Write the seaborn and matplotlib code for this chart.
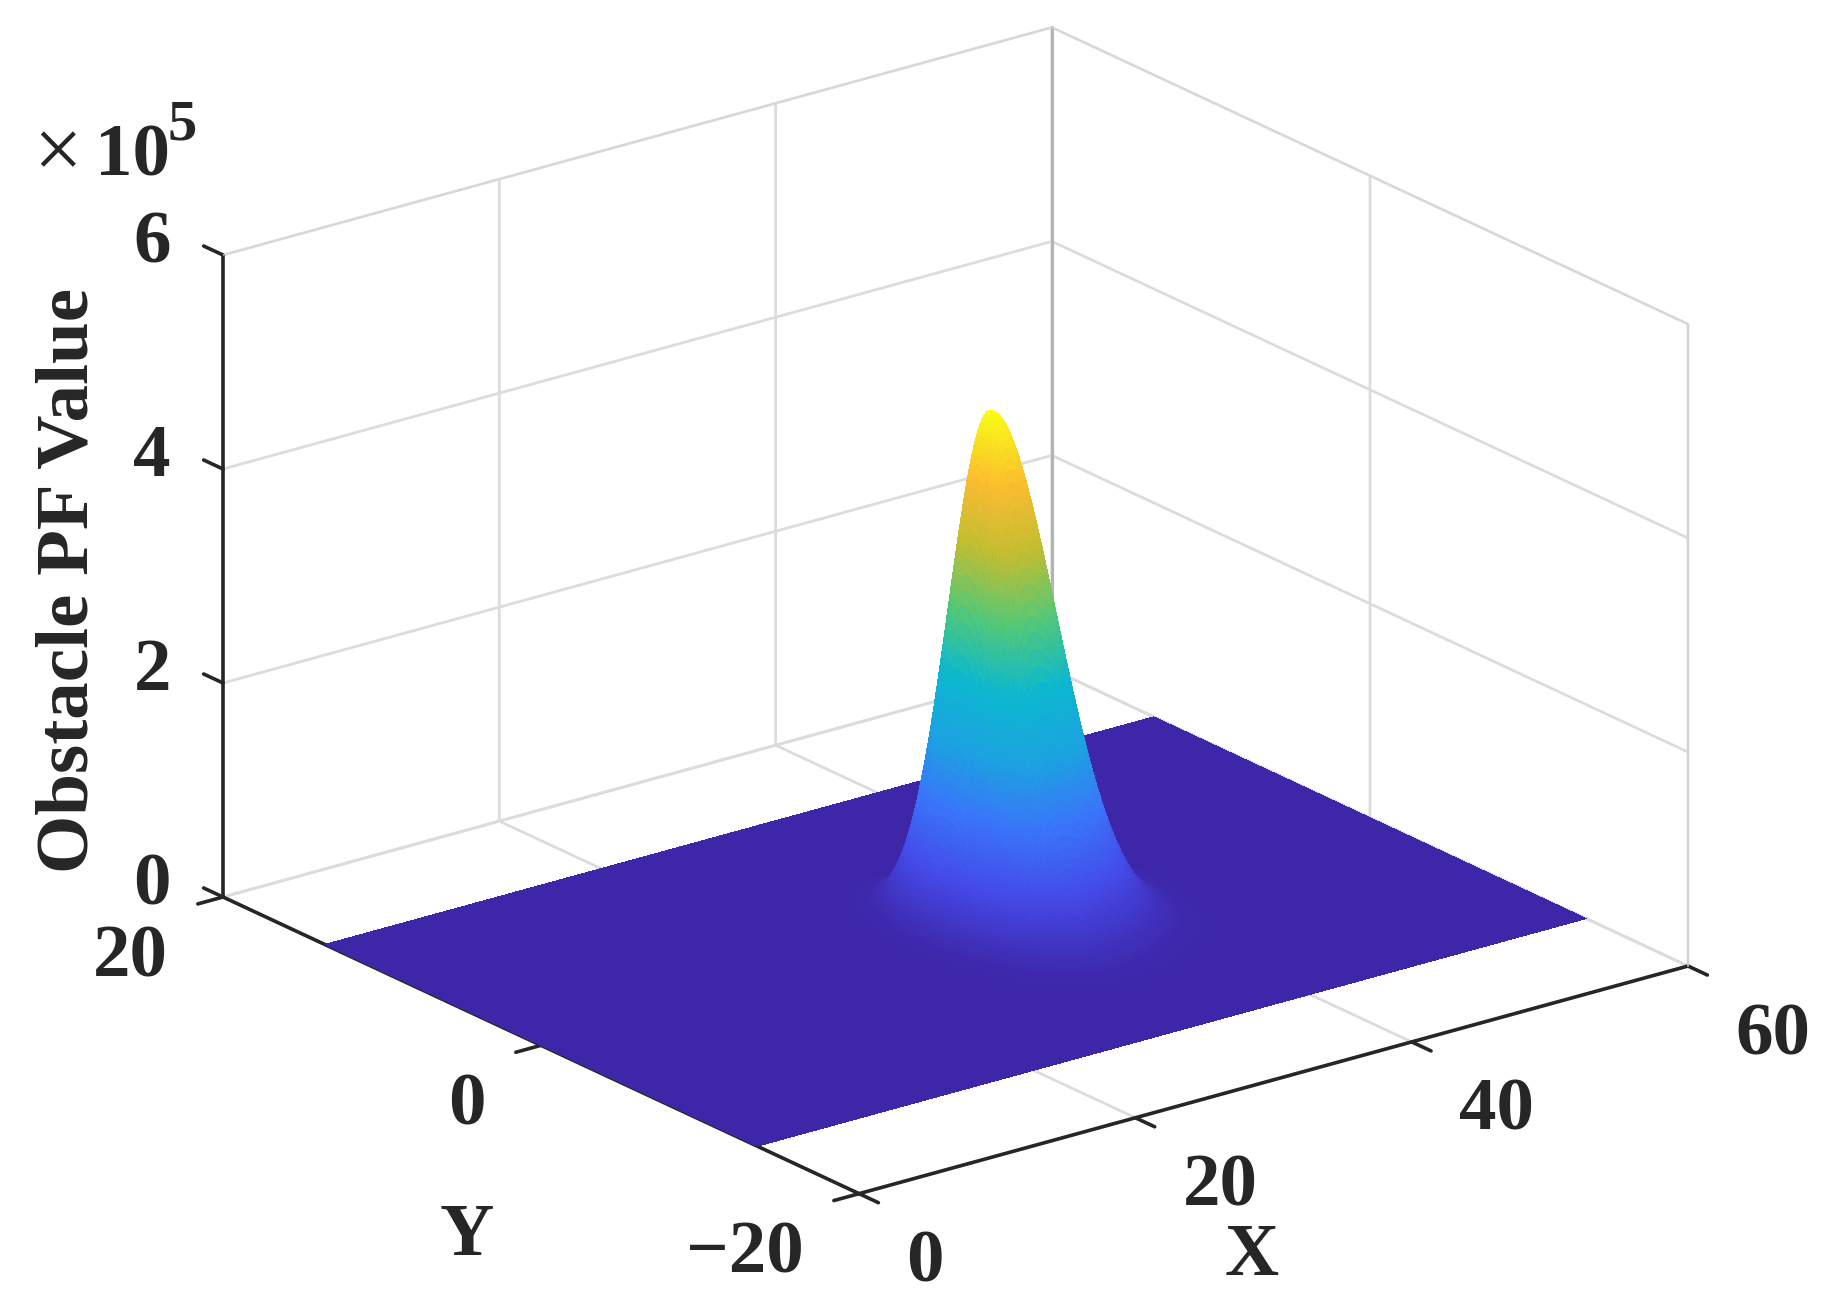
import numpy as np
import seaborn as sns
import matplotlib
matplotlib.use('Agg')
import matplotlib.pyplot as plt
from mpl_toolkits.mplot3d import axis3d, proj3d

# axis data
x_ticks = [0, 20, 40, 60]
x_labels = ['0', '20', '40', '60']
y_ticks = [-20, 0, 20]
y_labels = ['\u221220', '0', '20']
z_ticks = [0, 2e5, 4e5, 6e5]
z_labels = ['0', '2', '4', '6']

# surface extent and peak
surface_x = (0.0, 60.0)
surface_y = (-13.6, 13.6)
peak_x = 32.3
peak_y = -0.2
peak_z = 4.8e5
# the peak leans to the right, so each side has its own width
x_width_low = 2.0
x_width_high = 3.7
y_width_low = 2.6
y_width_high = 2.0

# height profile away from the peak (fraction of peak height), one entry per 0.05 of a width
profile_height = [1.0, 0.9988, 0.995, 0.9888, 0.98, 0.9692, 0.956, 0.9406, 0.923, 0.9037,
                  0.882, 0.8598, 0.835, 0.8096, 0.783, 0.7548, 0.726, 0.6968, 0.667, 0.6368,
                  0.607, 0.5762, 0.546, 0.5162, 0.487, 0.4578, 0.43, 0.402, 0.375, 0.3495,
                  0.325, 0.3008, 0.278, 0.2564, 0.236, 0.2163, 0.198, 0.1806, 0.164, 0.1494,
                  0.135, 0.1223, 0.11, 0.0991, 0.089, 0.0796, 0.071, 0.0632, 0.056, 0.0497,
                  0.044, 0.0387, 0.034, 0.0298, 0.026, 0.0228, 0.02, 0.0172, 0.015, 0.0129,
                  0.011, 0.0095, 0.0082, 0.007, 0.006, 0.0051, 0.0043, 0.0037, 0.0031, 0.0026,
                  0.0022, 0.0018, 0.0015, 0.0013, 0.0011, 0.0009, 0.0007]
profile_spacing = 0.05

# surface colours from bottom to top
surface_colors = ['#3d26a8', '#4549e7', '#3a74fa', '#1ca3e0', '#0cb8cf',
                  '#52c878', '#c0bd32', '#fbbc30', '#f9fb15']

FIG_W, FIG_H = 1830, 1313
INK = '#262626'
SERIF = ['Liberation Serif', 'DejaVu Serif']
FONT_SIZE = 54


def fx(px):
    return px / FIG_W


def fy(py):
    return 1 - py / FIG_H


def build_axis(center, low, high, limits):
    heights = np.array(profile_height)
    steps = np.arange(len(heights)) * profile_spacing
    coords = np.concatenate([[limits[0]], center - low * steps[::-1], center + high * steps[1:], [limits[1]]])
    shape = np.concatenate([[0.0], heights[::-1], heights[1:], [0.0]])
    return coords, shape


def corner_px(ax, x, y, z):
    xs, ys, _ = proj3d.proj_transform(x, y, z, ax.get_proj())
    ax.apply_aspect()
    return ax.transData.transform((xs, ys))


def fit_axes(ax, fig, left_target, right_target):
    # Scale and shift the square axes so the floor corners land on the target pixels
    left = corner_px(ax, 0, 20, 0)
    right = corner_px(ax, 60, -20, 0)
    k = (right_target[0] - left_target[0]) / (right[0] - left[0])
    pos = ax.get_position()
    ax.set_position([pos.x0, pos.y0, pos.width * k, pos.height * k])
    left = corner_px(ax, 0, 20, 0)
    pos = ax.get_position()
    ax.set_position([pos.x0 + (left_target[0] - left[0]) / FIG_W,
                     pos.y0 + (FIG_H - left_target[1] - left[1]) / FIG_H,
                     pos.width, pos.height])


def tick_text(fig, ax, point, label, dx, dy, ha):
    # Tick label placed from the projected tick position, dx/dy in pixels (dy downwards)
    px, py = corner_px(ax, *point)
    fig.text((px + dx) / FIG_W, (py - dy) / FIG_H, label, ha=ha, va='center',
             fontsize=FONT_SIZE, fontweight='bold', color=INK)


def main():
    sns.set_theme(style='white', rc={'grid.color': '#dcdcdc', 'grid.linewidth': 2.0})
    plt.rcParams['font.family'] = SERIF
    plt.rcParams['font.weight'] = 'bold'

    # z ticks run along y, like the left end of the box in the reference
    axis3d.Axis._AXINFO['z']['tickdir'] = 1

    parula = sns.blend_palette(surface_colors, n_colors=256, as_cmap=True)

    xs, x_shape = build_axis(peak_x, x_width_low, x_width_high, surface_x)
    ys, y_shape = build_axis(peak_y, y_width_low, y_width_high, surface_y)
    X, Y = np.meshgrid(xs, ys)
    Z = peak_z * np.outer(y_shape, x_shape)

    fig = plt.figure(figsize=(FIG_W / 100, FIG_H / 100), dpi=100)
    ax = fig.add_axes([0.1, 0.1, 1400 / FIG_W, 1400 / FIG_H], projection='3d', proj_type='ortho')
    ax.computed_zorder = False
    ax.patch.set_alpha(0)
    ax.view_init(elev=20.97, azim=-127.5)
    ax.set_box_aspect((1, 1, 0.658))
    ax.set_xlim(0, 60, view_margin=0)
    ax.set_ylim(-20, 20, view_margin=0)
    ax.set_zlim(0, 6e5, view_margin=0)

    ax.plot_surface(X, Y, Z, cmap=parula, vmin=0, vmax=peak_z, rcount=len(ys), ccount=len(xs),
                    linewidth=0, antialiased=False, zorder=3)

    # Box edges above the floor
    ax.plot([60, 60], [20, 20], [0, 6e5], color='#b4b4b4', lw=2.2, zorder=1)
    ax.plot([60, 60], [-20, -20], [0, 6e5], color='#d2d2d2', lw=1.2, zorder=1)
    ax.plot([0, 60], [20, 20], [6e5, 6e5], color='#d4d4d4', lw=1.0, ls=(0, (1.5, 1.0)), zorder=1)
    ax.plot([60, 60], [20, -20], [6e5, 6e5], color='#d4d4d4', lw=1.0, ls=(0, (1.5, 1.0)), zorder=1)

    for axis, ticks, tick_out, tick_in in [
        (ax.xaxis, x_ticks, 0.0, 0.38),
        (ax.yaxis, y_ticks, 0.0, 0.38),
        (ax.zaxis, z_ticks, 0.38, 0.0),
    ]:
        axis.set_ticks(ticks)
        axis.set_ticklabels([''] * len(ticks))
        axis.set_pane_color((1, 1, 1, 0))
        axis.pane.set_edgecolor((1, 1, 1, 0))
        axis._axinfo['axisline']['color'] = INK
        axis._axinfo['axisline']['linewidth'] = 2.6
        axis.line.set_color(INK)
        axis.line.set_linewidth(2.6)
        axis._axinfo['tick']['outward_factor'] = tick_out
        axis._axinfo['tick']['inward_factor'] = tick_in
        axis._axinfo['tick']['linewidth'] = {True: 2.6, False: 2.6}
        axis._axinfo['tick']['color'] = INK
    ax.grid(True)

    fit_axes(ax, fig, (223, 897), (1688, 965))

    for tick, label in zip(x_ticks, x_labels):
        tick_text(fig, ax, (tick, -20, 0), label, 47, 70, 'left')
    for tick, label in zip(y_ticks, y_labels):
        tick_text(fig, ax, (0, tick, 0), label, -55, 61, 'right')
    for tick, label in zip(z_ticks, z_labels):
        tick_text(fig, ax, (0, 20, tick), label, -52, -11, 'right')

    # Axis names and the exponent
    fig.text(fx(70), fy(580), 'Obstacle PF Value', rotation=90, ha='center', va='center',
             fontsize=FONT_SIZE, fontweight='bold', color=INK)
    fig.text(fx(1252), fy(1257), 'X', ha='center', va='center', fontsize=FONT_SIZE, fontweight='bold', color=INK)
    fig.text(fx(467), fy(1237), 'Y', ha='center', va='center', fontsize=FONT_SIZE, fontweight='bold', color=INK)
    fig.text(fx(58), fy(157), '\u00d7', ha='center', va='center', fontsize=62, fontweight='normal', color=INK)
    fig.text(fx(95), fy(175), '10', ha='left', va='baseline', fontsize=FONT_SIZE, fontweight='bold', color=INK)
    fig.text(fx(168), fy(140), '5', ha='left', va='baseline', fontsize=FONT_SIZE * 0.78, fontweight='bold', color=INK)

    fig.savefig('out.png', dpi=100)
    plt.close(fig)


if __name__ == '__main__':
    main()
